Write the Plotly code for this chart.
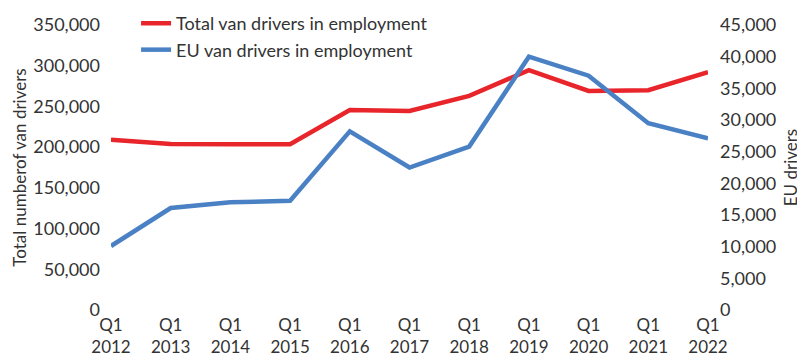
import plotly.graph_objects as go

years = ["2012", "2013", "2014", "2015", "2016", "2017", "2018", "2019", "2020", "2021", "2022"]
tick_labels = ["Q1<br>" + y for y in years]
total_drivers = [209000, 204000, 203500, 203500, 245500, 244500, 263000, 294500, 269000, 270000, 292000]
eu_drivers = [10100, 16100, 17000, 17250, 28200, 22500, 25800, 40000, 37000, 29500, 27100]

left_ticks = list(range(0, 350001, 50000))
right_ticks = list(range(0, 45001, 5000))

x = list(range(len(years)))
font_family = "Lato, 'Open Sans', sans-serif"

fig = go.Figure()
fig.add_trace(go.Scatter(x=x, y=total_drivers, mode="lines", name="Total van drivers in employment",
                         line=dict(color="#E8252B", width=4.5), yaxis="y"))
fig.add_trace(go.Scatter(x=x, y=eu_drivers, mode="lines", name="EU van drivers in employment",
                         line=dict(color="#4A80C4", width=4.5), yaxis="y2"))

fig.update_layout(
    width=797, height=352,
    margin=dict(l=103, r=97, t=17, b=50, autoexpand=False),
    paper_bgcolor="white", plot_bgcolor="white",
    font=dict(family=font_family, size=17, color="#333333"),
    showlegend=True,
    legend=dict(x=0.042, y=1.07, xanchor="left", yanchor="top",
                bgcolor="rgba(0,0,0,0)",
                font=dict(size=18, color="#333333"), tracegroupgap=0, itemwidth=30),
    xaxis=dict(range=[0, 10], tickvals=x, ticktext=tick_labels, showgrid=False, zeroline=False,
               showline=False, ticks="", tickfont=dict(size=17), ticklabelstandoff=3, automargin=False),
    yaxis=dict(range=[0, 350000], tickvals=left_ticks, tickformat=",", showgrid=False, zeroline=False,
               showline=False, ticks="", tickfont=dict(size=18), ticklabelstandoff=10, automargin=False,
               title=dict(text="Total numberof van drivers", font=dict(size=17), standoff=2)),
    yaxis2=dict(range=[0, 45000], tickvals=right_ticks, tickformat=",", overlaying="y", side="right",
                showgrid=False, zeroline=False, showline=False, ticks="", tickfont=dict(size=18),
                ticklabelstandoff=11, automargin=False,
                title=dict(text="EU drivers", font=dict(size=17), standoff=9)),
)

fig.write_html("out.html")
